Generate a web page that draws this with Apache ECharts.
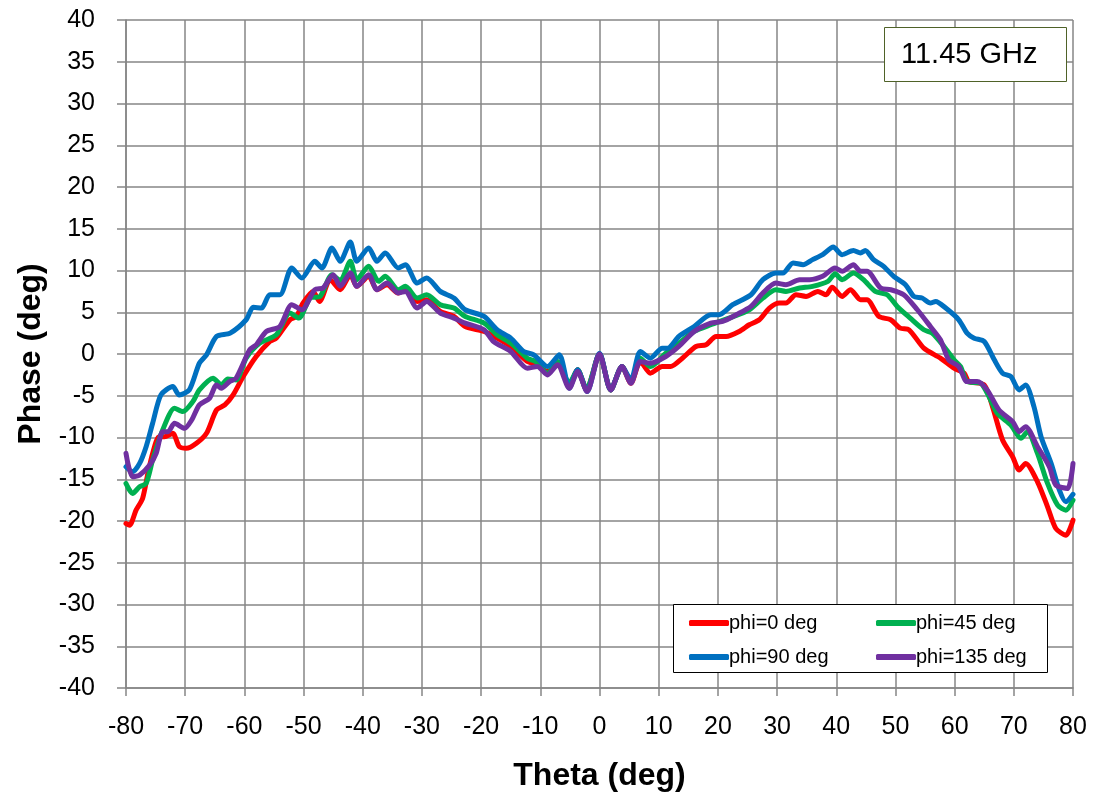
<!DOCTYPE html>
<html><head><meta charset="utf-8">
<script src="https://cdn.jsdelivr.net/npm/echarts@6/dist/echarts.min.js"></script>
<style>html,body{margin:0;padding:0;background:#fff}#c{width:1098px;height:798px}</style>
</head><body><div id="c"></div>
<script>
const seriesNames = ['phi=0 deg', 'phi=45 deg', 'phi=90 deg', 'phi=135 deg'];
const xTicks = [-80,-70,-60,-50,-40,-30,-20,-10,0,10,20,30,40,50,60,70,80];
const yTicks = [-40,-35,-30,-25,-20,-15,-10,-5,0,5,10,15,20,25,30,35,40];

const thetaRed = [-80,-79.4,-78.3,-77.2,-76.3,-75.5,-74.4,-73.5,-72.1,-71,-69.8,-68.1,-66.4,-64.7,-63.3,-61.9,-60.2,-58,-55.7,-54.6,-52.3,-51.2,-50.1,-48.4,-47.3,-45.5,-43.8,-42.1,-41,-39,-37.6,-35.9,-34,-32.8,-30.8,-29.2,-26.9,-24.6,-22.7,-19.5,-17.3,-15,-12.2,-10.5,-8.8,-7.1,-5.1,-3.7,-2.2,0,1.9,3.8,5.3,6.9,8.6,10.6,12,14,16.3,18,19.7,21.4,23.6,25.3,27,28.7,30.4,31.5,33.2,34.9,36.9,38.3,39.3,41,42.4,44.1,45.2,47.2,49.2,50.8,52.3,54.8,57.6,59.9,61.6,62.4,65,66.4,68.1,69.8,70.9,72,74,75.7,77.1,78.8,80];
const phaseRed = [-20.3,-20.5,-18.7,-17.3,-14.3,-11.9,-9.9,-9.9,-9.5,-11.1,-11.3,-10.7,-9.5,-6.7,-6.1,-4.9,-2.7,-0.3,1.5,1.9,4.1,4.5,6.1,7.5,6.3,8.9,7.7,9.5,8.1,9.3,7.7,8.3,7.3,7.7,6.3,6.5,5.1,4.5,3.3,2.7,1.9,0.9,-0.9,-1.3,-2.1,-1.1,-3.7,-1.9,-4.3,0,-4.3,-1.5,-3.5,-0.9,-2.3,-1.5,-1.5,-0.5,0.9,1.1,2.1,2.1,2.7,3.5,4.1,5.5,6.1,6.1,7.1,6.9,7.5,7.1,8.0,6.9,7.7,6.5,6.5,4.5,4.1,3.1,2.9,0.7,-0.5,-1.7,-2.3,-3.3,-3.7,-6.3,-10.3,-12.3,-13.9,-13.1,-15.3,-18.3,-20.9,-21.7,-19.9];

const thetaGreen = [-80,-78.9,-77.7,-76.6,-75.5,-73.8,-71.8,-70.4,-68.7,-67.6,-65.3,-63.9,-62.8,-61.4,-59.7,-57.4,-54.6,-52.3,-50.8,-48.9,-47.2,-45.2,-43.8,-42.1,-41,-39,-37.3,-36.2,-34,-32.8,-30.8,-29.2,-26.9,-24.6,-22.7,-19.5,-17.3,-15,-12.2,-10.8,-8.8,-7.1,-5.1,-3.7,-2.2,0,1.9,3.8,5.3,6.9,8.6,11.2,13.4,16,18.8,21.9,25.3,27.6,29.8,31.5,33.8,36,38.6,39.8,41,42.9,44.6,46.6,48.6,50.3,52.5,54.8,56.2,58.2,59.9,61,62.1,64.4,65.8,67.2,69.5,71.2,72.3,74,75.7,77.4,78.8,80];
const phaseGreen = [-15.5,-16.7,-15.9,-15.5,-12.7,-9.1,-6.5,-6.9,-5.7,-4.3,-2.9,-3.7,-3.0,-3.1,-0.5,1.3,2.3,4.9,4.3,6.7,6.9,9.5,8.8,11.1,8.9,10.5,8.7,9.3,7.7,8.1,6.7,7.1,5.9,5.5,4.5,3.7,2.3,1.3,-0.5,-0.9,-2.3,-0.9,-3.5,-1.9,-4.2,0,-4.3,-1.5,-3.3,-0.5,-1.5,0.1,1.3,2.7,3.5,4.3,5.3,6.7,7.7,7.5,7.9,8.1,8.7,9.6,8.9,9.7,8.9,7.5,7.1,5.7,4.3,2.9,2.5,0.9,-0.7,-1.5,-3.3,-3.5,-5.1,-7.1,-8.5,-10.1,-9.3,-11.9,-15.5,-18.1,-18.7,-17.5];

const thetaBlue = [-80,-78.9,-77.7,-76.6,-75.5,-74.1,-72.1,-71,-69.3,-67.6,-66.4,-64.7,-62.4,-59.7,-58.5,-57.1,-55.7,-54,-52,-50.3,-48.1,-46.9,-45.2,-43.8,-42.1,-41,-39,-37.6,-36.2,-34,-32.8,-30.8,-29.2,-26.9,-24.6,-22.7,-19.5,-17.3,-15,-12.8,-11.1,-8.8,-6.8,-5.1,-3.7,-2.1,0,1.9,3.8,5.3,6.9,8.6,10.6,11.5,13.4,16,18.8,20.2,22.5,25.6,27.6,29.8,31,32.7,34.4,36,37.7,39.5,41,42.9,44.1,44.9,46.3,48,49.7,51.7,53.1,54.5,55.9,56.8,58.5,60.7,62.1,63.3,65,66.7,68.1,69.5,70.9,72,73.4,74.6,76.3,77.7,78.8,80];
const phaseBlue = [-13.5,-14.1,-13.1,-11.1,-8.3,-4.9,-3.9,-4.9,-4.3,-1.1,-0.1,2.1,2.5,4.1,5.6,5.5,7.1,7.1,10.3,9.1,11.1,10.3,12.7,11.1,13.4,11.1,12.7,11.1,12.1,10.3,10.7,8.5,9.1,7.5,6.7,5.3,4.5,2.9,1.9,0.3,-0.1,-1.5,-0.1,-4.1,-1.9,-4.5,0.1,-4.3,-1.5,-3.1,0.3,-0.5,0.7,0.7,2.1,3.3,4.7,4.7,5.9,7.1,8.9,9.7,9.7,10.9,10.7,11.3,11.9,12.8,11.9,12.4,12.1,12.4,11.3,10.5,9.3,8.3,6.9,6.7,6.1,6.3,5.5,4.1,2.5,1.9,1.5,-0.7,-2.3,-2.7,-4.3,-3.7,-6.3,-9.9,-13.1,-16.3,-17.7,-16.8];

const thetaPurple = [-80,-78.9,-77.7,-76,-74.9,-73.8,-72.9,-71.8,-70.1,-68.9,-67.6,-65.9,-64.7,-63.9,-62.5,-61.4,-59.1,-58,-56.3,-54,-52,-50.3,-48.1,-46.7,-45,-43.8,-42.1,-41,-39,-37.6,-35.9,-34,-32.8,-30.8,-29.2,-26.9,-24.6,-22.7,-19.5,-17.9,-15,-12.2,-10.5,-8.8,-7.1,-5.1,-3.7,-2.1,0,1.9,3.8,5.3,6.9,8.6,11.2,13.4,16,18.8,20.8,23.1,25.6,27.6,29.8,31.5,33.8,35.5,37.7,39.8,41,42.9,44.1,45.2,47.5,49.2,51.4,53.7,55.9,57.6,59,60.7,62.1,63.8,65.5,67.5,69.8,70.9,72,74,76,77.1,79.1,80];
const phasePurple = [-11.9,-14.7,-14.5,-13.3,-11.9,-9.3,-9.3,-8.3,-8.9,-7.9,-6.1,-5.3,-3.7,-4.1,-3.3,-2.9,0.5,1.1,2.7,3.3,5.9,5.3,7.7,7.9,9.5,8.1,9.7,8.1,9.5,7.7,8.5,7.3,7.5,5.5,6.3,4.9,4.3,3.7,2.9,1.5,0.3,-1.7,-1.5,-2.5,-1.3,-4.1,-2.1,-4.5,0,-4.3,-1.5,-3.5,-0.9,-1.1,-0.3,0.9,2.7,3.7,3.9,4.7,5.7,7.3,8.5,8.3,8.9,8.9,9.3,10.3,9.9,10.7,9.9,9.9,7.9,7.7,7.1,5.3,3.3,1.7,-0.7,-1.5,-3.3,-3.3,-4.3,-6.7,-8.1,-9.3,-8.7,-11.1,-13.5,-15.7,-16.1,-13.1];

const colors = ['#FF0000', '#00B050', '#0070C0', '#7030A0'];
const thetas = [thetaRed, thetaGreen, thetaBlue, thetaPurple];
const phases = [phaseRed, phaseGreen, phaseBlue, phasePurple];

const FONT = '"Liberation Sans", Arial, sans-serif';
const chart = echarts.init(document.getElementById('c'), null, {renderer: 'canvas'});

const series = seriesNames.map((name, i) => ({
  name: name,
  type: 'line',
  data: thetas[i].map((t, k) => [t, phases[i][k]]),
  showSymbol: false,
  smooth: 0.25,
  lineStyle: {width: 5, color: colors[i], cap: 'round', join: 'round'},
  itemStyle: {color: colors[i]},
  z: 3 + i,
  animation: false
}));

const legendCommon = {
  orient: 'vertical',
  icon: 'roundRect',
  itemWidth: 40,
  itemHeight: 6,
  itemGap: 14,
  top: 608,
  textStyle: {fontFamily: FONT, fontSize: 20, color: '#000', padding: [0, 0, 0, -5]},
  selectedMode: false
};

chart.setOption({
  animation: false,
  backgroundColor: '#fff',
  grid: {left: 126, right: 25, top: 20, bottom: 110, containLabel: false},
  xAxis: {
    type: 'value', min: -80, max: 80, interval: 10,
    name: 'Theta (deg)', nameLocation: 'middle', nameGap: 72,
    nameTextStyle: {fontFamily: FONT, fontSize: 32, fontWeight: 'bold', color: '#000'},
    axisLine: {show: true, onZero: false, lineStyle: {color: '#868686', width: 1.5}},
    axisTick: {show: true, length: 8, lineStyle: {color: '#868686', width: 1.5}},
    axisLabel: {fontFamily: FONT, fontSize: 25, color: '#000', margin: 27,
      formatter: v => xTicks.includes(v) ? String(v) : ''},
    splitLine: {show: true, lineStyle: {color: '#868686', width: 1.5}}
  },
  yAxis: {
    type: 'value', min: -40, max: 40, interval: 5,
    name: 'Phase (deg)', nameLocation: 'middle', nameGap: 79, nameRotate: 90,
    nameTextStyle: {fontFamily: FONT, fontSize: 32, fontWeight: 'bold', color: '#000'},
    axisLine: {show: true, onZero: false, lineStyle: {color: '#868686', width: 1.5}},
    axisTick: {show: true, length: 9, lineStyle: {color: '#868686', width: 1.5}},
    axisLabel: {fontFamily: FONT, fontSize: 25, color: '#000', margin: 31,
      formatter: v => yTicks.includes(v) ? String(v) : ''},
    splitLine: {show: true, lineStyle: {color: '#868686', width: 1.5}}
  },
  legend: [
    Object.assign({}, legendCommon, {left: 684, data: [seriesNames[0], seriesNames[2]]}),
    Object.assign({}, legendCommon, {left: 871, data: [seriesNames[1], seriesNames[3]]})
  ],
  graphic: [
    {type: 'rect', z: 1, shape: {x: 673.5, y: 604.5, width: 374, height: 68},
     style: {fill: '#fff', stroke: '#000', lineWidth: 1}},
    {type: 'rect', z: 10, shape: {x: 884.5, y: 27.5, width: 182, height: 54},
     style: {fill: '#fff', stroke: '#4F6228', lineWidth: 1}},
    {type: 'text', z: 11, x: 901, y: 55,
     style: {text: '11.45 GHz', fontFamily: FONT, fontSize: 29, fill: '#000', verticalAlign: 'middle'}}
  ],
  series: series
});
</script>
</body></html>
